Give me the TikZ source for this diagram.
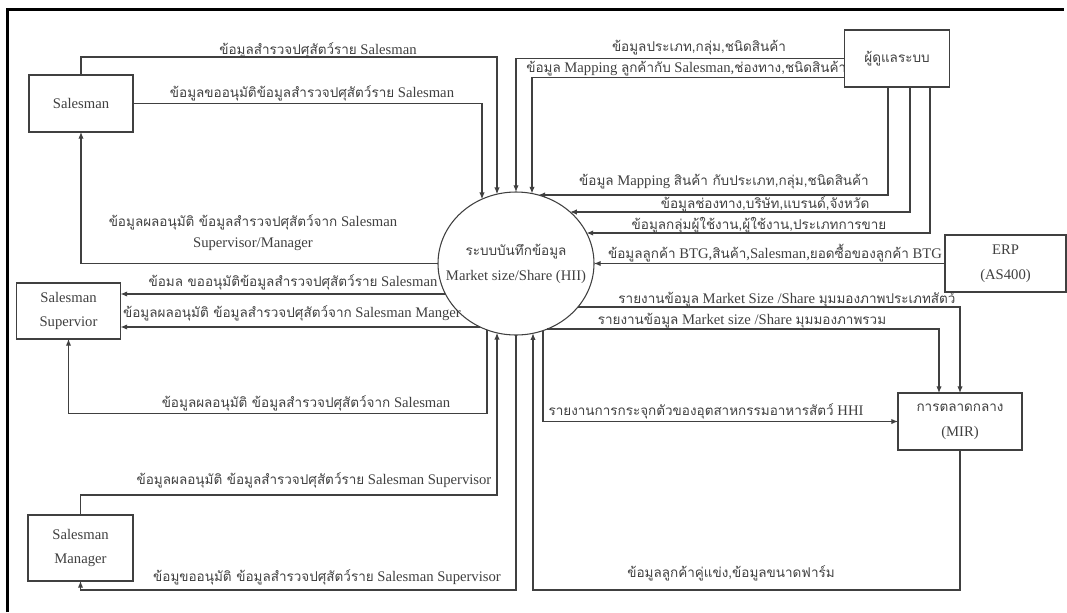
\documentclass[tikz,border=0pt]{standalone}
\usepackage{fontspec}
\usepackage{tikz}
\usetikzlibrary{arrows.meta,shapes.geometric}
\setmainfont{Liberation Serif}
\newfontfamily\thaifont[Script=Thai,Scale=0.92]{Loma}
\newcommand{\tha}[1]{{\thaifont #1}}
\newcommand{\rimv}[3]{\coordinate (#1) at (#2,{263.5#3 71.5*sqrt(1-((#2-516)/78)^2)});}
\newcommand{\rimh}[3]{\coordinate (#1) at ({516#3 78*sqrt(1-((#2-263.5)/71.5)^2)},#2);}
\definecolor{ink}{HTML}{404040}

\begin{document}
\begin{tikzpicture}[x=0.75pt,y=-0.75pt,
 box/.style={draw=ink,fill=white,line width=0.8pt,align=center,inner sep=0pt,outer sep=0pt,text=ink,font=\fontsize{11}{18.5}\selectfont},
 lbl/.style={text=ink,inner sep=0pt,font=\fontsize{11}{13}\selectfont},
 flow/.style={draw=ink,line width=0.8pt,-{Latex[length=5pt,width=4pt]}}]
\useasboundingbox (0,0) rectangle (1067,612);
\draw[line width=2.2pt] (7.5,612) -- (7.5,9.5) -- (1064,9.5);
\node[box,minimum width=78pt,minimum height=42.75pt] (sm) at (81,103.5) {Salesman};
\node[box,minimum width=78pt,minimum height=42pt] (sup) at (68.5,311) {Salesman\\Supervior};
\node[box,minimum width=78.75pt,minimum height=49.5pt] (mgr) at (80.5,548) {Salesman\\Manager};
\node[box,minimum width=90.75pt,minimum height=42.75pt] (erp) at (1005.5,263.5) {ERP\\(AS400)};
\node[box,minimum width=93pt,minimum height=42.75pt] (mir) at (960,421.5) {\tha{การตลาดกลาง}\\(MIR)};
\node[draw=ink,line width=0.8pt,ellipse,minimum width=117pt,minimum height=107.25pt,inner sep=0pt,outer sep=0pt] (hub) at (516,263.5) {};
\node[lbl,align=center,font=\fontsize{11}{18.75}\selectfont] (hubtxt) at (hub) {\tha{ระบบบันทึกข้อมูล}\\Market size/Share (HII)};
\node[lbl,anchor=west] (lmapc) at (526,69) {\tha{ข้อมูล} Mapping \tha{ลูกค้ากับ} Salesman,\tha{ช่องทาง,ชนิดสินค้า}};
\node[box,minimum width=78.4pt,minimum height=42.75pt] (adm) at (897,58.5) {\tha{ผู้ดูแลระบบ}};
\rimv{t1}{482}{-} \rimv{t2}{497}{-} \rimv{t3}{516}{-} \rimv{t4}{532}{-}
\rimv{b1}{487}{+} \rimv{b2}{497}{+} \rimv{b3}{516}{+} \rimv{b4}{533}{+} \rimv{b5}{543}{+}
\rimh{r1}{195}{+} \rimh{r2}{212}{+} \rimh{r3}{233}{+} \rimh{r5}{307}{+} \rimh{r6}{329}{+}
\rimh{l1}{294}{-} \rimh{l2}{327}{-}
\draw[flow] (sm.north) -- ++(0,-18) -| (t2);
\draw[flow] (sm.east) -| (t1);
\draw[flow] (adm.west) -| (t3);
\draw[flow] ([yshift=-13.9pt]adm.west) -| (t4);
\draw[flow] ([xshift=-6.75pt]adm.south) |- (r1);
\draw[flow] ([xshift=9.75pt]adm.south) |- (r2);
\draw[flow] ([xshift=24.75pt]adm.south) |- (r3);
\draw[flow] (erp.west) -- (hub.east);
\draw[flow] (r5) -| (mir.north);
\draw[flow] (r6) -| ([xshift=-15.75pt]mir.north);
\draw[flow] (b5) |- (mir.west);
\draw[flow] (mir.south) -- ++(0,140) -| (b4);
\draw[flow] (hub.west) -| (sm.south);
\draw[flow] (l1) -- (l1 -| sup.east);
\draw[flow] (l2) -- (l2 -| sup.east);
\draw[flow] (b1) -- ++(0,84) -| (sup.south);
\draw[flow] (mgr.north) -- ++(0,-20) -| (b2);
\draw[flow] (b3) -- ++(0,255) -| (mgr.south);
\node[lbl] (lsurv) at (318,50) {\tha{ข้อมูลสำรวจปศุสัตว์ราย} Salesman};
\node[lbl] (lreq) at (312,93) {\tha{ข้อมูลขออนุมัติข้อมูลสำรวจปศุสัตว์ราย} Salesman};
\node[lbl] (ltype) at (699,48) {\tha{ข้อมูลประเภท,กลุ่ม,ชนิดสินค้า}};
\node[lbl] (lmapp) at (724,182) {\tha{ข้อมูล} Mapping \tha{สินค้า กับประเภท,กลุ่ม,ชนิดสินค้า}};
\node[lbl] (lchan) at (765,204) {\tha{ข้อมูลช่องทาง,บริษัท,แบรนด์,จังหวัด}};
\node[lbl] (luser) at (759,225) {\tha{ข้อมูลกลุ่มผู้ใช้งาน,ผู้ใช้งาน,ประเภทการขาย}};
\node[lbl] (lerp) at (775,253) {\tha{ข้อมูลลูกค้า} BTG,\tha{สินค้า},Salesman,\tha{ยอดซื้อของลูกค้า} BTG};
\node[lbl] (lanim) at (787,299) {\tha{รายงานข้อมูล} Market Size /Share \tha{มุมมองภาพประเภทสัตว์}};
\node[lbl] (ltotal) at (742,321) {\tha{รายงานข้อมูล} Market size /Share \tha{มุมมองภาพรวม}};
\node[lbl] (lhhi) at (706,411) {\tha{รายงานการกระจุกตัวของอุตสาหกรรมอาหารสัตว์} HHI};
\node[lbl] (lcomp) at (731,573) {\tha{ข้อมูลลูกค้าคู่แข่ง,ข้อมูลขนาดฟาร์ม}};
\node[lbl,align=center,font=\fontsize{11}{15.75}\selectfont] (lres) at (253,232.5) {\tha{ข้อมูลผลอนุมัติ ข้อมูลสำรวจปศุสัตว์จาก} Salesman\\Supervisor/Manager};
\node[lbl] (lsupreq) at (293,282) {\tha{ข้อมล ขออนุมัติข้อมูลสำรวจปศุสัตว์ราย} Salesman};
\node[lbl] (lsupmgr) at (292,313) {\tha{ข้อมูลผลอนุมัติ ข้อมูลสำรวจปศุสัตว์จาก} Salesman Manger};
\node[lbl] (lsupres) at (306,403) {\tha{ข้อมูลผลอนุมัติ ข้อมูลสำรวจปศุสัตว์จาก} Salesman};
\node[lbl] (lmgrres) at (314,480) {\tha{ข้อมูลผลอนุมัติ ข้อมูลสำรวจปศุสัตว์ราย} Salesman Supervisor};
\node[lbl] (lmgrreq) at (327,577) {\tha{ข้อมูขออนุมัติ ข้อมูลสำรวจปศุสัตว์ราย} Salesman Supervisor};
\end{tikzpicture}
\end{document}
